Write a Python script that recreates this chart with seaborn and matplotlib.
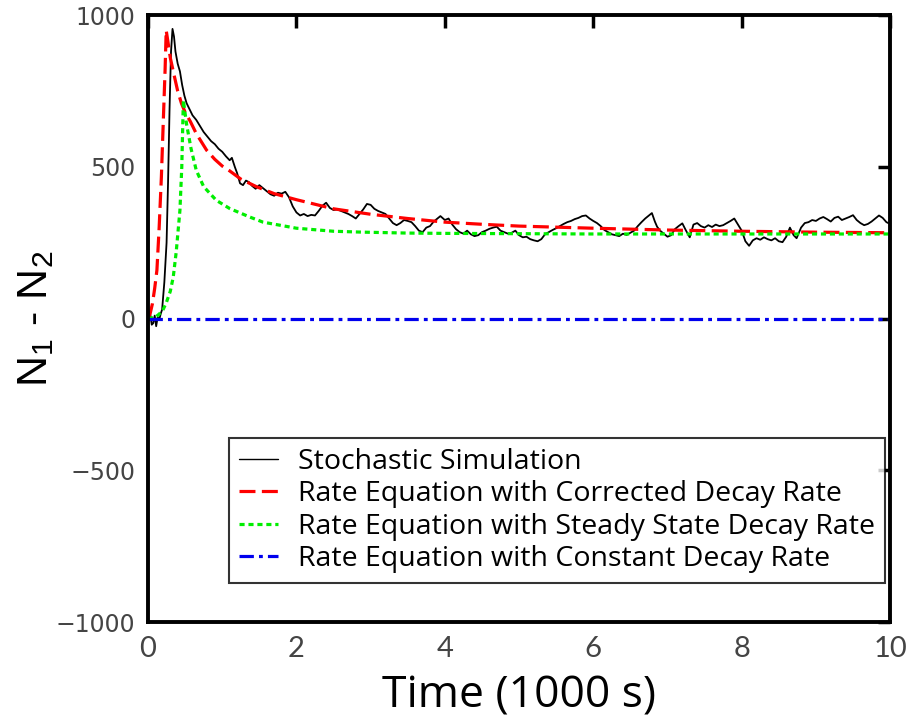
import numpy as np
import pandas as pd
import matplotlib
matplotlib.use("Agg")
import matplotlib.pyplot as plt
import seaborn as sns

# ---- data (time in 1000 s, N1 - N2) ----
stoch_t = [0.00, 0.03, 0.05, 0.07, 0.09, 0.11, 0.13, 0.15, 0.17, 0.19, 0.20, 0.22, 0.25, 0.27, 0.29,
           0.31, 0.33, 0.35, 0.37, 0.40, 0.43, 0.46, 0.49, 0.52, 0.56, 0.60, 0.65, 0.70, 0.75, 0.80,
           0.85, 0.90, 0.95, 1.00, 1.05, 1.10, 1.13, 1.17, 1.20, 1.24, 1.28, 1.32, 1.36, 1.40, 1.45,
           1.50, 1.55, 1.60, 1.65, 1.70, 1.75, 1.80, 1.85, 1.90, 1.95, 2.00, 2.05, 2.10, 2.15, 2.20,
           2.25, 2.30, 2.35, 2.40, 2.45, 2.50, 2.55, 2.60, 2.65, 2.70, 2.75, 2.80, 2.85, 2.90, 2.95,
           3.00, 3.05, 3.10, 3.15, 3.20, 3.25, 3.30, 3.35, 3.40, 3.45, 3.50, 3.55, 3.60, 3.65, 3.70,
           3.75, 3.80, 3.85, 3.90, 3.94, 4.00, 4.05, 4.10, 4.15, 4.20, 4.25, 4.30, 4.35, 4.40, 4.45,
           4.50, 4.55, 4.60, 4.65, 4.70, 4.75, 4.80, 4.85, 4.90, 4.95, 5.00, 5.05, 5.10, 5.15, 5.20,
           5.25, 5.30, 5.35, 5.40, 5.45, 5.50, 5.55, 5.60, 5.65, 5.70, 5.75, 5.80, 5.85, 5.90, 5.95,
           6.00, 6.05, 6.10, 6.15, 6.20, 6.25, 6.30, 6.35, 6.40, 6.45, 6.50, 6.55, 6.60, 6.65, 6.70,
           6.75, 6.79, 6.83, 6.86, 6.90, 6.95, 7.00, 7.05, 7.10, 7.15, 7.20, 7.25, 7.30, 7.35, 7.40,
           7.45, 7.50, 7.55, 7.60, 7.65, 7.70, 7.75, 7.80, 7.85, 7.90, 7.95, 8.00, 8.05, 8.10, 8.15,
           8.20, 8.25, 8.30, 8.35, 8.40, 8.45, 8.50, 8.55, 8.60, 8.65, 8.70, 8.74, 8.80, 8.85, 8.90,
           8.95, 9.00, 9.05, 9.10, 9.15, 9.20, 9.25, 9.30, 9.35, 9.40, 9.45, 9.50, 9.55, 9.60, 9.65,
           9.70, 9.75, 9.80, 9.85, 9.90, 9.95, 10.0]
stoch_v = [0, 15, -20, -15, 10, -25, 5, -5, 15, 30, 60, 120, 250, 450, 690,
           880, 955, 930, 880, 840, 815, 770, 735, 710, 690, 670, 655, 635, 615, 600,
           585, 575, 560, 550, 535, 522, 530, 500, 480, 446, 440, 455, 450, 438, 428,
           440, 430, 420, 410, 405, 415, 412, 418, 400, 370, 350, 340, 345, 338, 342,
           340, 355, 372, 382, 365, 358, 360, 355, 350, 345, 338, 330, 345, 360, 378,
           375, 362, 355, 350, 345, 330, 315, 308, 315, 325, 322, 318, 305, 290, 285,
           300, 305, 320, 330, 338, 325, 330, 310, 295, 285, 280, 290, 278, 272, 275,
           285, 290, 296, 300, 303, 290, 285, 280, 283, 290, 275, 268, 270, 262, 258,
           255, 262, 278, 285, 292, 298, 305, 312, 318, 322, 328, 332, 338, 340, 330,
           322, 315, 305, 292, 285, 278, 275, 272, 280, 276, 283, 290, 305, 318, 330,
           340, 348, 320, 303, 290, 280, 270, 275, 295, 305, 314, 290, 268, 310, 315,
           305, 300, 308, 302, 310, 305, 308, 315, 322, 330, 310, 290, 255, 240, 258,
           265, 260, 268, 262, 258, 265, 255, 252, 270, 300, 275, 265, 300, 315, 318,
           325, 322, 330, 335, 328, 320, 332, 336, 325, 330, 335, 341, 325, 315, 308,
           312, 320, 330, 340, 332, 318, 312]

corr_t = [0.0, 0.03, 0.06, 0.09, 0.12, 0.15, 0.18, 0.21, 0.23, 0.245, 0.27, 0.30, 0.34, 0.40, 0.45,
          0.50, 0.57, 0.65, 0.79, 0.90, 1.00, 1.10, 1.25, 1.46, 1.70, 2.00, 2.50, 3.00, 3.50, 4.00,
          4.50, 5.00, 6.00, 7.00, 8.00, 9.00, 10.0]
corr_v = [0, 18, 50, 100, 160, 300, 467, 680, 820, 950, 910, 860, 815, 750, 710,
          680, 650, 610, 555, 525, 503, 487, 460, 435, 412, 392, 362, 344, 330, 318,
          311, 305, 298, 292, 288, 285, 283]

ss_t = [0.0, 0.10, 0.15, 0.20, 0.25, 0.30, 0.34, 0.38, 0.43, 0.455, 0.476, 0.52, 0.58, 0.65, 0.75,
        0.92, 1.10, 1.37, 1.55, 2.00, 2.50, 2.90, 3.50, 4.00, 5.00, 6.00, 8.00, 10.0]
ss_v = [0, 5, 15, 28, 55, 90, 137, 220, 357, 500, 720, 640, 560, 489, 435,
        390, 363, 335, 318, 298, 288, 285, 282, 281, 280, 279, 279, 279]

const_t = [0.0, 10.0]
const_v = [0, 0]

labels = ["Stochastic Simulation",
          "Rate Equation with Corrected Decay Rate",
          "Rate Equation with Steady State Decay Rate",
          "Rate Equation with Constant Decay Rate"]
x_ticks = [0, 2, 4, 6, 8, 10]
y_ticks = [-1000, -500, 0, 500, 1000]

sns.set_theme(style="white")
plt.rcParams['mathtext.fontset'] = 'custom'
plt.rcParams['mathtext.rm'] = 'Liberation Sans'

fig = plt.figure(figsize=(9.12, 7.25), dpi=100)
ax = fig.add_axes([0.1623, 0.142, 0.8137, 0.837])

sns.lineplot(x=stoch_t, y=stoch_v, ax=ax, color="black", lw=1.3, label=labels[0])
sns.lineplot(x=corr_t, y=corr_v, ax=ax, color="#ff0000", lw=2.3, label=labels[1])
sns.lineplot(x=ss_t, y=ss_v, ax=ax, color="#00ee00", lw=2.3, label=labels[2])
sns.lineplot(x=const_t, y=const_v, ax=ax, color="#0000ee", lw=2.3, label=labels[3])

lines = ax.get_lines()
lines[0].set_linewidth(1.3)
lines[1].set_dashes((5, 2))
lines[2].set_dashes((1.6, 1.2))
lines[3].set_dashes((4.5, 1.6, 1.2, 1.6))

ax.set_xlim(0, 10)
ax.set_ylim(-1000, 1000)
ax.set_xticks(x_ticks)
ax.set_yticks(y_ticks)
ax.set_xticklabels([str(v) for v in x_ticks], family="Lato", fontsize=21, color="#444444")
ax.set_yticklabels([f"{v}".replace("-", "\u2212") for v in y_ticks], family="DejaVu Sans",
                   fontsize=17, color="#444444")
ax.tick_params(direction="in", length=9, width=2.5, top=True, right=True, colors="black")
ax.tick_params(axis="x", pad=10, labelcolor="#444444")
ax.tick_params(axis="y", pad=9, labelcolor="#444444")
for s in ax.spines.values():
    s.set_linewidth(2.8)
    s.set_color("black")

ax.set_xlabel("Time (1000 s)", family="Open Sans", fontsize=32, color="black", labelpad=9)
ax.set_ylabel(r"N$\mathregular{_1}$ - N$\mathregular{_2}$", family="Liberation Sans",
              fontsize=31, color="black", labelpad=0)

leg = ax.legend(loc="lower right", bbox_to_anchor=(0.993, 0.064), borderaxespad=0,
                prop={"family": "Open Sans", "size": 20.5}, frameon=True, fancybox=False,
                edgecolor="black", handlelength=1.35, labelspacing=0.15, borderpad=0.36,
                handletextpad=0.7, labelcolor="black")
leg.get_frame().set_linewidth(1.5)
for h in leg.get_lines():
    h.set_linewidth(2.3)
leg.get_lines()[0].set_linewidth(1.0)

fig.savefig("out.png", dpi=100)
